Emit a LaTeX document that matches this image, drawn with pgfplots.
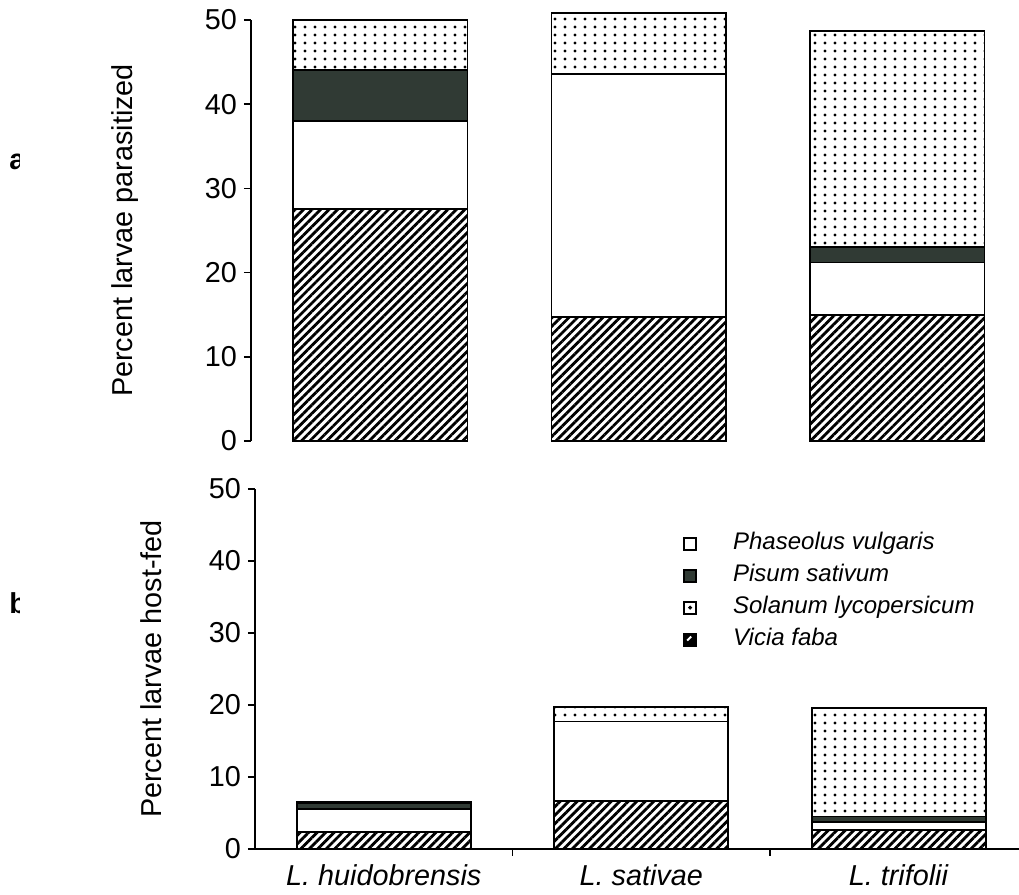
\documentclass[border=0pt]{standalone}
\usepackage{fontspec}
\setmainfont{Liberation Sans}
\usepackage{pgfplots}
\pgfplotsset{compat=1.18}
\usetikzlibrary{patterns,patterns.meta}

% dotted fill for Solanum lycopersicum
\pgfdeclarepatternformonly{solanumdots}{\pgfqpoint{-1pt}{-1pt}}{\pgfqpoint{6pt}{5pt}}{\pgfqpoint{5pt}{4pt}}{%
  \pgfpathcircle{\pgfqpoint{2.5pt}{2pt}}{0.8pt}\pgfusepath{fill}}

\definecolor{pisumgray}{RGB}{48,58,52}

\pgfplotsset{
  vicia/.style={draw=black, line width=0.9pt,
    pattern={Lines[angle=45,distance=3pt,line width=1.4pt]}, pattern color=black},
  phaseolus/.style={draw=black, line width=0.9pt, fill=white},
  pisum/.style={draw=black, line width=0.9pt, fill=pisumgray},
  solanum/.style={draw=black, line width=0.9pt, pattern=solanumdots},
  panel/.style={
    scale only axis, ybar stacked, bar width=0.675,
    ymin=0, ymax=50, ytick={0,10,...,50}, xmin=-0.5,
    axis line style={line width=0.8pt, black},
    tick style={line width=0.8pt, black},
    tick align=outside, major tick length=3.5pt,
    ticklabel style={font=\fontsize{14.4}{17}\selectfont},
    /pgf/number format/assume math mode=true,
    label style={font=\fontsize{14.4}{17}\selectfont},
    clip=false,
  },
}

\begin{document}
\begin{tikzpicture}
\useasboundingbox (0pt,0pt) rectangle (509.5pt,447.5pt);

% panel letters, cut at the left margin
\begin{scope}
  \clip (0pt,0pt) rectangle (9.5pt,447.5pt);
  \node[anchor=base west, inner sep=0pt, font=\fontsize{14.4}{17}\selectfont\bfseries] at (4.5pt,362.5pt) {a};
  \node[anchor=base west, inner sep=0pt, font=\fontsize{14.4}{17}\selectfont\bfseries] at (4.5pt,140.5pt) {b};
\end{scope}

% (a) parasitized
\begin{axis}[panel,
  at={(125.5pt,227pt)}, anchor=south west,
  width=384pt, height=210.5pt, xmax=2.471,
  axis x line=none, axis y line*=left, xtick=\empty,
  ylabel={Percent larvae parasitized},
  ylabel style={at={(axis description cs:-0.164,0.5)}, anchor=center},
]
\addplot[vicia] coordinates {(0,27.6) (1,14.7) (2,15.0)};
\addplot[phaseolus] coordinates {(0,10.4) (1,28.9) (2,6.2)};
\addplot[pisum] coordinates {(0,6.1) (1,0) (2,1.8)};
\addplot[solanum] coordinates {(0,5.9) (1,7.2) (2,25.7)};
\end{axis}

% (b) host-fed
\begin{axis}[panel,
  at={(127.5pt,23pt)}, anchor=south west,
  width=382pt, height=180pt, xmax=2.467,
  axis x line*=bottom, axis y line*=left,
  xtick={0.5,1.5}, xticklabels={,,},
  extra x ticks={0,1,2},
  extra x tick labels={\textit{L. huidobrensis},\textit{L. sativae},\textit{L. trifolii}},
  extra x tick style={major tick length=0pt,
    tick label style={font=\fontsize{14.4}{17}\selectfont, yshift=-4.5pt}},
  ylabel={Percent larvae host-fed},
  ylabel style={at={(axis description cs:-0.136,0.5)}, anchor=center},
  legend style={draw=none, fill=none, at={(0.552,0.905)}, anchor=north west,
    font=\fontsize{12}{14}\selectfont\itshape,
    nodes={text height=8.6pt, text depth=2.4pt, inner ysep=2.5pt},
    /tikz/every odd column/.append style={column sep=16pt}},
  legend cell align=left,
]
\addlegendimage{legend image code/.code={\draw[line width=1pt, fill=white] (0pt,-3pt) rectangle (6pt,3pt);}}
\addlegendentry{Phaseolus vulgaris}
\addlegendimage{legend image code/.code={\draw[line width=1pt, fill=pisumgray] (0pt,-3pt) rectangle (6pt,3pt);}}
\addlegendentry{Pisum sativum}
\addlegendimage{legend image code/.code={\draw[line width=1pt, fill=white] (0pt,-3pt) rectangle (6pt,3pt); \fill (3pt,0pt) circle (0.8pt);}}
\addlegendentry{Solanum lycopersicum}
\addlegendimage{legend image code/.code={\draw[line width=1pt, fill=black] (0pt,-3pt) rectangle (6pt,3pt); \draw[white, line width=0.9pt] (1.5pt,-0.5pt) -- (3.5pt,1.5pt);}}
\addlegendentry{Vicia faba}

\addplot[vicia] coordinates {(0,2.4) (1,6.7) (2,2.6)};
\addplot[phaseolus] coordinates {(0,3.1) (1,11.0) (2,1.1)};
\addplot[pisum] coordinates {(0,0.9) (1,0) (2,0.8)};
\addplot[solanum] coordinates {(0,0.2) (1,2.0) (2,15.1)};
\end{axis}
\end{tikzpicture}
\end{document}
